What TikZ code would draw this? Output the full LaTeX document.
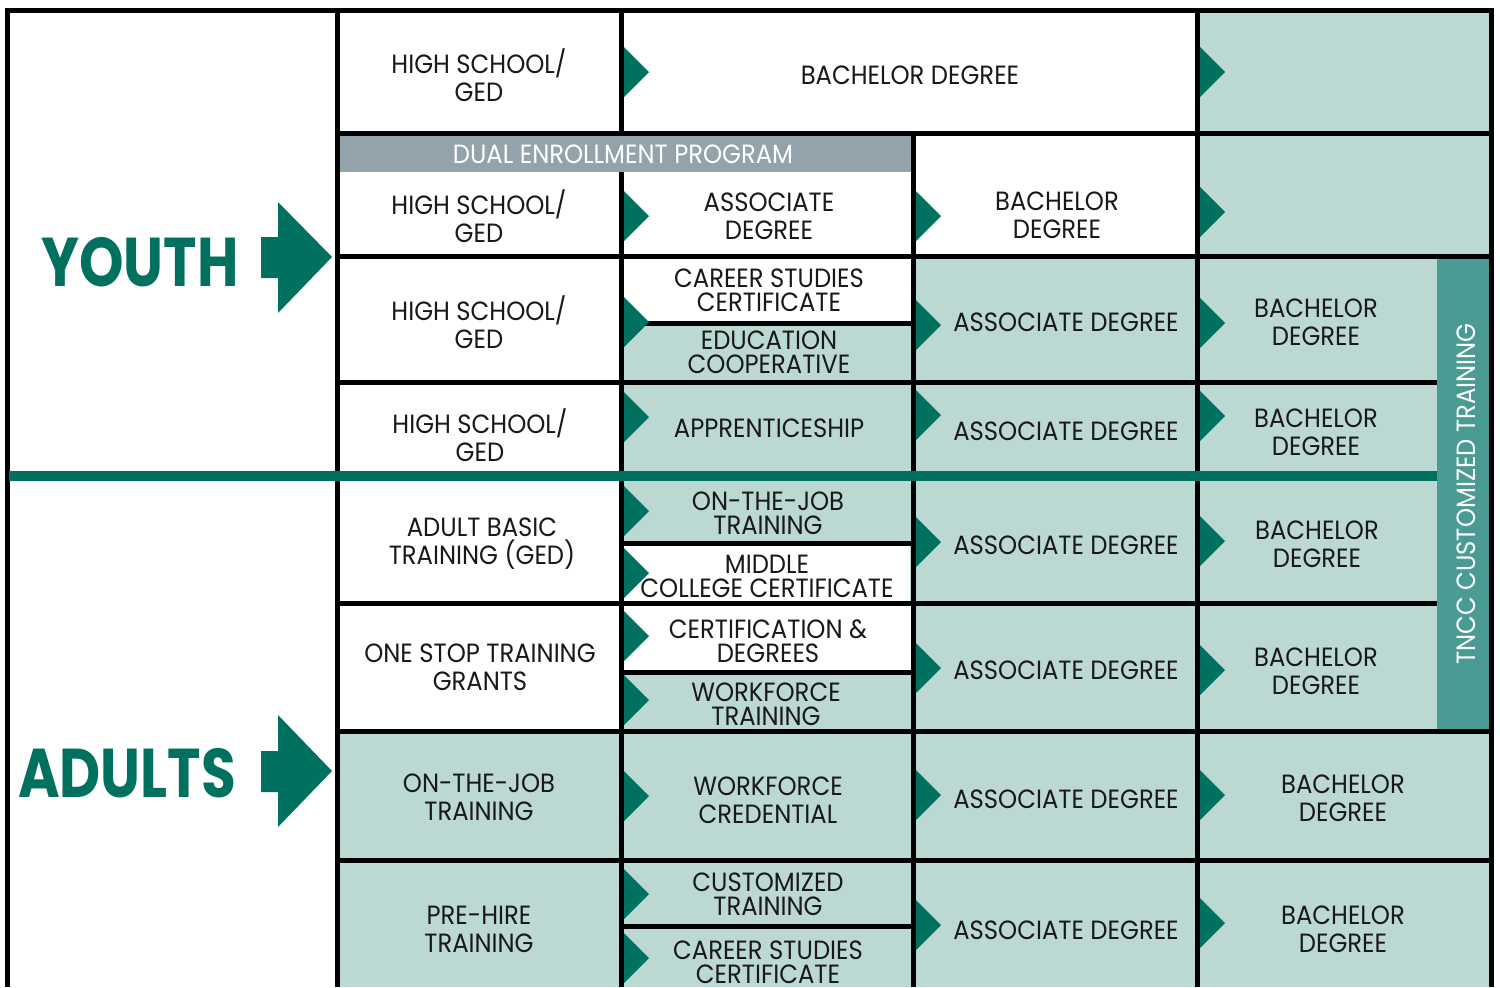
\documentclass[tikz,border=0pt]{standalone}
\usepackage{fontspec}
\setmainfont{Poppins}[FakeStretch=0.92]
\newfontfamily\bigf{Poppins}[FakeStretch=0.82]
\definecolor{lt}{HTML}{BCD8D3}
\definecolor{dk}{HTML}{00705F}
\definecolor{barc}{HTML}{4A9B93}
\definecolor{grayb}{HTML}{92A3AC}
\tikzset{
  lbl/.style={align=center, inner sep=0pt, font=\fontsize{13.2}{14}\selectfont, text=black!90},
  lbltight/.style={lbl, font=\fontsize{13.2}{12}\selectfont},
  grid/.style={line width=2.5pt, black},
  tipc/.style={fill=dk},
  big/.style={font=\bigf\fontsize{34.5}{34.5}\selectfont\bfseries, text=dk, inner sep=0pt},
}
\newcommand\tri[2]{\fill[tipc] (#1,{#2-25}) -- ({#1+25},#2) -- (#1,{#2+25}) -- cycle;}
\begin{document}
\begin{tikzpicture}[x=0.5pt,y=-0.5pt]
\useasboundingbox (0,0) rectangle (1500,987);
\fill[white] (0,0) rectangle (1500,987);
% fills
\fill[lt] (1197,10) rectangle (1491,987);
\fill[lt] (621,256) rectangle (1197,987);
\fill[lt] (337,731) rectangle (621,987);
\fill[white] (621,256) rectangle (913,323);
\fill[white] (621,543) rectangle (910,603);
\fill[white] (621,603) rectangle (913,672);
\fill[barc] (1437,256) rectangle (1491,731);
\fill[grayb] (337,133) rectangle (913,172);
% grid lines
\draw[grid] (7,10.5) -- (1491,10.5);
\draw[grid] (7,8) -- (7,987);
\draw[grid] (1491,8) -- (1491,987);
\draw[grid] (337,10) -- (337,987);
\draw[grid] (621,10) -- (621,133);
\draw[grid] (621,172) -- (621,987);
\draw[grid] (913,133) -- (913,987);
\draw[grid] (1197,10) -- (1197,987);
\draw[grid] (337,133) -- (1491,133);
\draw[grid] (337,256) -- (1491,256);
\draw[grid] (337,382) -- (1437,382);
\draw[grid] (337,603) -- (1437,603);
\draw[grid] (337,731) -- (1491,731);
\draw[grid] (337,860) -- (1491,860);
\draw[grid] (621,323) -- (913,323);
\draw[grid] (621,543) -- (913,543);
\draw[grid] (621,672) -- (913,672);
\draw[grid] (621,926) -- (913,926);
\draw[line width=5pt, dk] (9,476) -- (1437,476);
% big arrows
\fill[dk] (261,237) -- (278,237) -- (278,202) -- (332,257) -- (278,313) -- (278,278) -- (261,278) -- cycle;
\fill[dk] (261,751) -- (278,751) -- (278,715) -- (332,771) -- (278,827) -- (278,792) -- (261,792) -- cycle;
\node[big] (youth) at (140,262) {YOUTH};
\node[big] (adults) at (127,773) {ADULTS};
% small arrows
\tri{624}{72}\tri{1200}{72}
\tri{624}{216}\tri{916}{216}\tri{1200}{212}
\tri{624}{322}\tri{916}{325}\tri{1200}{323}
\tri{624}{417}\tri{916}{415}\tri{1200}{416}
\tri{624}{511}\tri{624}{573}\tri{916}{542}\tri{1200}{541}
\tri{624}{636}\tri{624}{700}\tri{916}{668}\tri{1200}{670}
\tri{624}{796}\tri{916}{795}\tri{1200}{795}
\tri{624}{894}\tri{624}{958}\tri{916}{925}\tri{1200}{923}
% labels
\node[lbl] (a1) at (479,75) {HIGH SCHOOL/\\GED};
\node[lbl] (b1) at (910,75) {BACHELOR DEGREE};
\node[lbl, text=white] (dual) at (623,154) {DUAL ENROLLMENT PROGRAM};
\node[lbl] (a2) at (479,216) {HIGH SCHOOL/\\GED};
\node[lbl] (b2) at (769,216) {ASSOCIATE\\DEGREE};
\node[lbl] (c2) at (1057,215) {BACHELOR\\DEGREE};
\node[lbl] (a3) at (479,322) {HIGH SCHOOL/\\GED};
\node[lbltight] (b3a) at (769,290) {CAREER STUDIES\\CERTIFICATE};
\node[lbltight] (b3b) at (769,352) {EDUCATION\\COOPERATIVE};
\node[lbl] (c3) at (1066,322) {ASSOCIATE DEGREE};
\node[lbl] (d3) at (1316,322) {BACHELOR\\DEGREE};
\node[lbl] (a4) at (480,435) {HIGH SCHOOL/\\GED};
\node[lbl] (b4) at (769,428) {APPRENTICESHIP};
\node[lbl] (c4) at (1066,431) {ASSOCIATE DEGREE};
\node[lbl] (d4) at (1316,432) {BACHELOR\\DEGREE};
\node[lbl] (a5) at (482,544) {ADULT BASIC\\TRAINING (GED)};
\node[lbltight] (b5a) at (768,513) {ON-THE-JOB\\TRAINING};
\node[lbltight] (b5b) at (767,576) {MIDDLE\\COLLEGE CERTIFICATE};
\node[lbl] (c5) at (1066,545) {ASSOCIATE DEGREE};
\node[lbl] (d5) at (1317,544) {BACHELOR\\DEGREE};
\node[lbl] (a6) at (480,667) {ONE STOP TRAINING\\GRANTS};
\node[lbltight] (b6a) at (768,641) {CERTIFICATION \&\\DEGREES};
\node[lbltight] (b6b) at (766,704) {WORKFORCE\\TRAINING};
\node[lbl] (c6) at (1066,670) {ASSOCIATE DEGREE};
\node[lbl] (d6) at (1316,671) {BACHELOR\\DEGREE};
\node[lbl] (a7) at (479,797) {ON-THE-JOB\\TRAINING};
\node[lbl] (b7) at (768,800) {WORKFORCE\\CREDENTIAL};
\node[lbl] (c7) at (1066,799) {ASSOCIATE DEGREE};
\node[lbl] (d7) at (1343,798) {BACHELOR\\DEGREE};
\node[lbl] (a8) at (479,929) {PRE-HIRE\\TRAINING};
\node[lbltight] (b8a) at (768,894) {CUSTOMIZED\\TRAINING};
\node[lbltight] (b8b) at (768,962) {CAREER STUDIES\\CERTIFICATE};
\node[lbl] (c8) at (1066,930) {ASSOCIATE DEGREE};
\node[lbl] (d8) at (1343,929) {BACHELOR\\DEGREE};
\node[lbl, text=white, rotate=90] (tncc) at (1466,494) {TNCC CUSTOMIZED TRAINING};
\end{tikzpicture}
\end{document}
